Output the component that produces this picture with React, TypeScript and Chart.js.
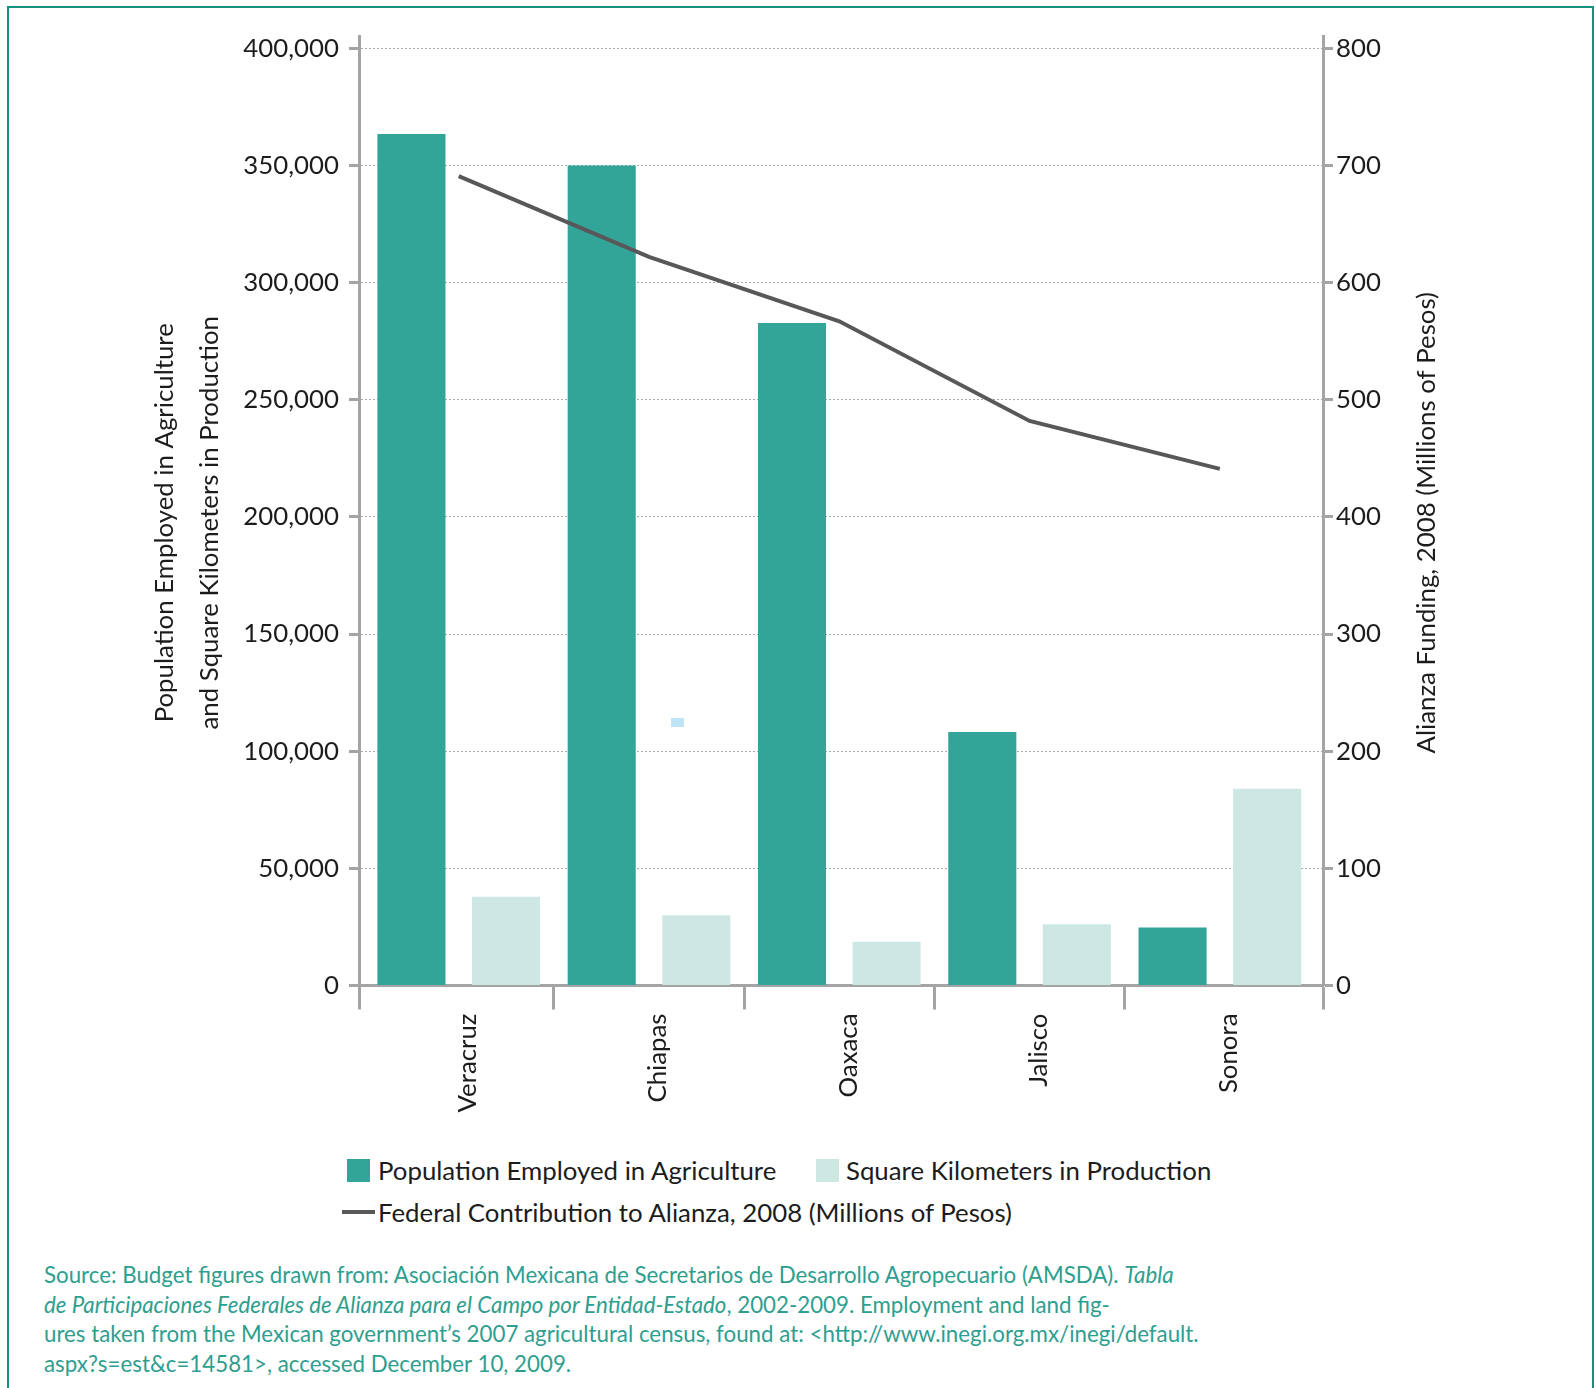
import React, { useEffect, useRef } from 'react';
import { Chart, registerables } from 'chart.js';

Chart.register(...registerables);

// ---- data ----
const categories = ['Veracruz', 'Chiapas', 'Oaxaca', 'Jalisco', 'Sonora'];
const populationEmployed = [363500, 350000, 282800, 108200, 24800];
const squareKilometers = [37900, 30000, 18700, 26100, 84000];
const federalContribution = [691, 622, 567, 482, 441];

const leftTickValues = [0, 50000, 100000, 150000, 200000, 250000, 300000, 350000, 400000];
const rightTickValues = [0, 100, 200, 300, 400, 500, 600, 700, 800];

const seriesNames = [
  'Population Employed in Agriculture',
  'Square Kilometers in Production',
  'Federal Contribution to Alianza, 2008 (Millions of Pesos)',
];
const leftTitle = ['Population Employed in Agriculture', 'and Square Kilometers in Production'];
const rightTitle = 'Alianza Funding, 2008 (Millions of Pesos)';

// x extent in category units (axis ends a little beyond half a category)
const xMin = -0.524;
const xMax = 4.542;
const leftMax = 405300;
const rightMax = 810.6;

// ---- styles ----
const DARK = '#33a598';
const LIGHT = '#cde7e3';
const LINE = '#58585a';
const AXIS = '#a4a4a6';
const GRID = '#a9a9a9';
const TEXT = '#1c1c1c';
const TEAL_TEXT = '#2e9e8f';
const FONT = 'Lato, "Open Sans", sans-serif';
const FS = 25.8;
// the x ticks (category centres and boundaries) are half a category apart,
// so the bar group width is given relative to that half-category spacing
const GROUP_PCT = 1.988;
const BAR_PCT = 0.72;

const toPoints = (vals: number[]) => vals.map((v, i) => ({ x: i, y: v }));

const xTickValues = [xMin, ...categories.flatMap((_, i) => (i < categories.length - 1 ? [i, i + 0.5] : [i])), xMax];

const axisTitlesPlugin = {
  id: 'axisTitles',
  afterDraw(chart: any) {
    const { ctx, chartArea } = chart;
    const cy = (chartArea.top + chartArea.bottom) / 2 + 12;
    ctx.save();
    ctx.fillStyle = TEXT;
    ctx.font = `${FS}px ${FONT}`;
    ctx.textAlign = 'center';
    ctx.textBaseline = 'middle';
    ctx.save();
    ctx.translate(chartArea.left - 194, cy);
    ctx.rotate(-Math.PI / 2);
    leftTitle.forEach((t, i) => ctx.fillText(t, 0, i * 45));
    ctx.restore();
    ctx.save();
    ctx.translate(chartArea.right + 104, cy);
    ctx.rotate(-Math.PI / 2);
    ctx.fillText(rightTitle, 0, 0);
    ctx.restore();
    ctx.restore();
  },
};

export default function App() {
  const canvasRef = useRef<HTMLCanvasElement | null>(null);

  useEffect(() => {
    if (!canvasRef.current) return;
    const tickFont = { family: FONT, size: FS };
    const isCat = (v: number) => Number.isInteger(v);
    const chart = new Chart(canvasRef.current, {
      type: 'bar',
      data: {
        datasets: [
          {
            type: 'line',
            label: seriesNames[2],
            data: toPoints(federalContribution),
            borderColor: LINE,
            backgroundColor: LINE,
            borderWidth: 4,
            pointRadius: 0,
            tension: 0,
            fill: false,
            yAxisID: 'y1',
            order: 0,
          } as any,
          {
            label: seriesNames[0],
            data: toPoints(populationEmployed),
            backgroundColor: DARK,
            borderWidth: 0,
            yAxisID: 'y',
            categoryPercentage: GROUP_PCT,
            barPercentage: BAR_PCT,
            order: 1,
          },
          {
            label: seriesNames[1],
            data: toPoints(squareKilometers),
            backgroundColor: LIGHT,
            borderWidth: 0,
            yAxisID: 'y',
            categoryPercentage: GROUP_PCT,
            barPercentage: BAR_PCT,
            order: 1,
          },
        ],
      },
      options: {
        animation: false,
        responsive: false,
        maintainAspectRatio: false,
        devicePixelRatio: 1,
        layout: { padding: { top: 36, left: 0, right: 0, bottom: 0 } },
        plugins: {
          legend: { display: false },
          tooltip: { enabled: false },
          title: { display: false },
        },
        scales: {
          x: {
            type: 'linear',
            min: xMin,
            max: xMax,
            offset: false,
            afterBuildTicks: (s: any) => {
              s.ticks = xTickValues.map((v) => ({ value: v }));
            },
            grid: {
              display: true,
              drawOnChartArea: false,
              drawTicks: true,
              tickLength: 24,
              tickWidth: (ctx: any) => (ctx.tick && isCat(ctx.tick.value) ? 0 : 3),
              tickColor: AXIS,
              offset: false,
            },
            border: { display: true, color: AXIS, width: 3 },
            ticks: {
              minRotation: 90,
              maxRotation: 90,
              autoSkip: false,
              padding: 4,
              labelOffset: 9,
              color: TEXT,
              font: tickFont,
              callback: (v: any) => (isCat(Number(v)) ? categories[Number(v)] : ''),
            },
            afterFit: (s: any) => {
              s.height = 144.5;
            },
          },
          y: {
            position: 'left',
            min: 0,
            max: leftMax,
            afterBuildTicks: (s: any) => {
              s.ticks = leftTickValues.map((v) => ({ value: v }));
            },
            ticks: {
              padding: 10,
              color: TEXT,
              font: tickFont,
              callback: (v: any) => Number(v).toLocaleString('en-US'),
            },
            grid: {
              color: GRID,
              lineWidth: 1,
              drawOnChartArea: true,
              drawTicks: true,
              tickLength: 10,
              tickWidth: 3,
              tickColor: AXIS,
            },
            border: { display: true, color: AXIS, width: 3, dash: [2, 2] },
            afterFit: (s: any) => {
              s.width = 359;
            },
          },
          y1: {
            position: 'right',
            min: 0,
            max: rightMax,
            afterBuildTicks: (s: any) => {
              s.ticks = rightTickValues.map((v) => ({ value: v }));
            },
            ticks: {
              padding: 3,
              color: TEXT,
              font: tickFont,
            },
            grid: {
              drawOnChartArea: false,
              drawTicks: true,
              tickLength: 10,
              tickWidth: 3,
              tickColor: AXIS,
            },
            border: { display: true, color: AXIS, width: 3 },
            afterFit: (s: any) => {
              s.width = 273;
            },
          },
        },
      } as any,
      plugins: [axisTitlesPlugin],
    });
    return () => chart.destroy();
  }, []);

  const legendText: React.CSSProperties = {
    position: 'absolute',
    fontFamily: FONT,
    fontSize: FS,
    lineHeight: '30px',
    color: TEXT,
    whiteSpace: 'nowrap',
  };

  return (
    <div
      style={{
        position: 'absolute',
        left: 0,
        top: 0,
        width: 1596,
        height: 1388,
        overflow: 'hidden',
        background: '#ffffff',
      }}
    >
      <div
        style={{
          position: 'absolute',
          left: 7,
          top: 6,
          width: 1587,
          height: 1420,
          border: '2px solid #16917f',
          boxSizing: 'border-box',
        }}
      />
      <canvas
        ref={canvasRef}
        width={1596}
        height={1130}
        style={{ position: 'absolute', left: 0, top: 0, width: 1596, height: 1130 }}
      />
      <div style={{ position: 'absolute', left: 671, top: 718, width: 13, height: 9, background: '#bfe4f5' }} />

      {/* legend */}
      <div style={{ position: 'absolute', left: 347, top: 1159, width: 23, height: 23, background: DARK }} />
      <div style={{ ...legendText, left: 378, top: 1155 }}>{seriesNames[0]}</div>
      <div style={{ position: 'absolute', left: 816, top: 1159, width: 23, height: 23, background: LIGHT }} />
      <div style={{ ...legendText, left: 846, top: 1155 }}>{seriesNames[1]}</div>
      <div style={{ position: 'absolute', left: 342, top: 1210, width: 33, height: 4, background: LINE }} />
      <div style={{ ...legendText, left: 378, top: 1197 }}>{seriesNames[2]}</div>

      {/* source note */}
      <div
        style={{
          position: 'absolute',
          left: 44,
          top: 1260,
          fontFamily: FONT,
          fontSize: 22.3,
          lineHeight: '29.5px',
          color: TEAL_TEXT,
          whiteSpace: 'nowrap',
        }}
      >
        Source: Budget figures drawn from: Asociación Mexicana de Secretarios de Desarrollo Agropecuario (AMSDA).{' '}
        <i>Tabla</i>
        <br />
        <i>de Participaciones Federales de Alianza para el Campo por Entidad-Estado</i>, 2002-2009. Employment and land fig-
        <br />
        ures taken from the Mexican government’s 2007 agricultural census, found at: &lt;http://www.inegi.org.mx/inegi/default.
        <br />
        aspx?s=est&amp;c=14581&gt;, accessed December 10, 2009.
      </div>
    </div>
  );
}
